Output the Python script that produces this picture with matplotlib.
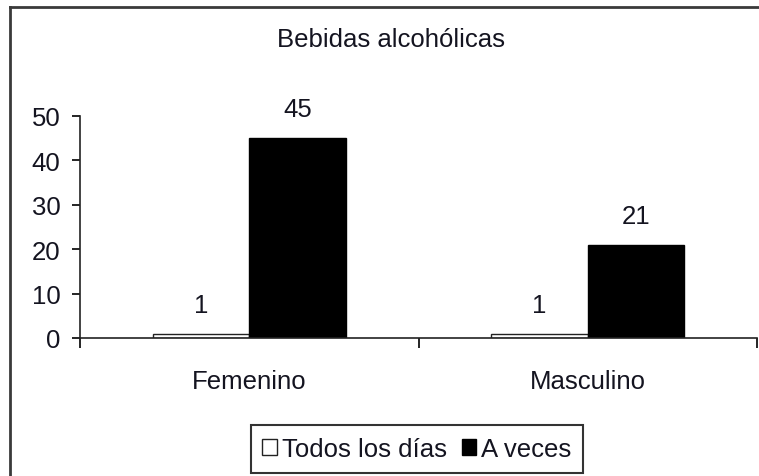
import matplotlib
matplotlib.use("Agg")
import matplotlib.pyplot as plt
from matplotlib.lines import Line2D
import numpy as np

plt.rcParams['font.family'] = ['Liberation Sans', 'DejaVu Sans']

title = "Bebidas alcohólicas"
categories = ["Femenino", "Masculino"]
series_names = ["Todos los días", "A veces"]
todos_los_dias = [1, 1]
a_veces = [45, 21]
y_ticks = [0, 10, 20, 30, 40, 50]

txt = "#141420"
fig = plt.figure(figsize=(7.59, 4.77), dpi=100)
ax = fig.add_axes([80/759, 1-339/477, 677/759, (339-117)/477])

x = np.arange(len(categories))
w = 0.2857
b1 = ax.bar(x - w/2, todos_los_dias, w, color="white", edgecolor="#222222", linewidth=1.0, label=series_names[0])
b2 = ax.bar(x + w/2, a_veces, w, color="black", edgecolor="black", linewidth=1.0, label=series_names[1])

for bars, vals in ((b1, todos_los_dias), (b2, a_veces)):
    for r, v in zip(bars, vals):
        ax.annotate(str(v), (r.get_x() + r.get_width()/2, v), xytext=(0, 29),
                    textcoords="offset pixels", ha="center", va="center",
                    fontsize=18.5, color=txt, annotation_clip=False)

ax.set_xlim(-0.5, 1.5)
ax.set_ylim(0, 50)
ax.set_yticks(y_ticks)
ax.tick_params(axis="y", direction="out", length=6, width=1.2, labelsize=18.5, labelcolor=txt, pad=8)
ax.set_xticks([-0.5, 0.5, 1.5])
ax.set_xticklabels([])
ax.tick_params(axis="x", which="major", direction="out", length=7, width=1.2)
ax.set_xticks(x, minor=True)
ax.set_xticklabels(categories, minor=True)
ax.tick_params(axis="x", which="minor", length=0, labelsize=18.5, labelcolor=txt, pad=22)

for s in ("top", "right"):
    ax.spines[s].set_visible(False)
for s in ("left", "bottom"):
    ax.spines[s].set_linewidth(1.2)
    ax.spines[s].set_color("#222222")
ax.patch.set_alpha(0)

fig.text(391/759, 1-40/477, title, ha="center", va="center", fontsize=18.5, color=txt)

leg = fig.legend(handles=[b1, b2], labels=series_names, loc="center",
                 bbox_to_anchor=(417/759, 1-450/477), ncol=2, fontsize=18.5,
                 frameon=True, fancybox=False, edgecolor="black",
                 handlelength=0.55, handleheight=0.55, handletextpad=0.2,
                 columnspacing=0.6, borderpad=0.45, labelcolor=txt)
leg.get_frame().set_linewidth(1.5)

# outer chart frame (cropped: only left and top edges visible)
fig.add_artist(Line2D([10/759, 10/759], [0, 1-8/477], transform=fig.transFigure, color="#3a3a3a", linewidth=2))
fig.add_artist(Line2D([10/759, 1], [1-8/477, 1-8/477], transform=fig.transFigure, color="#3a3a3a", linewidth=2))

fig.savefig("out.png", dpi=100)
